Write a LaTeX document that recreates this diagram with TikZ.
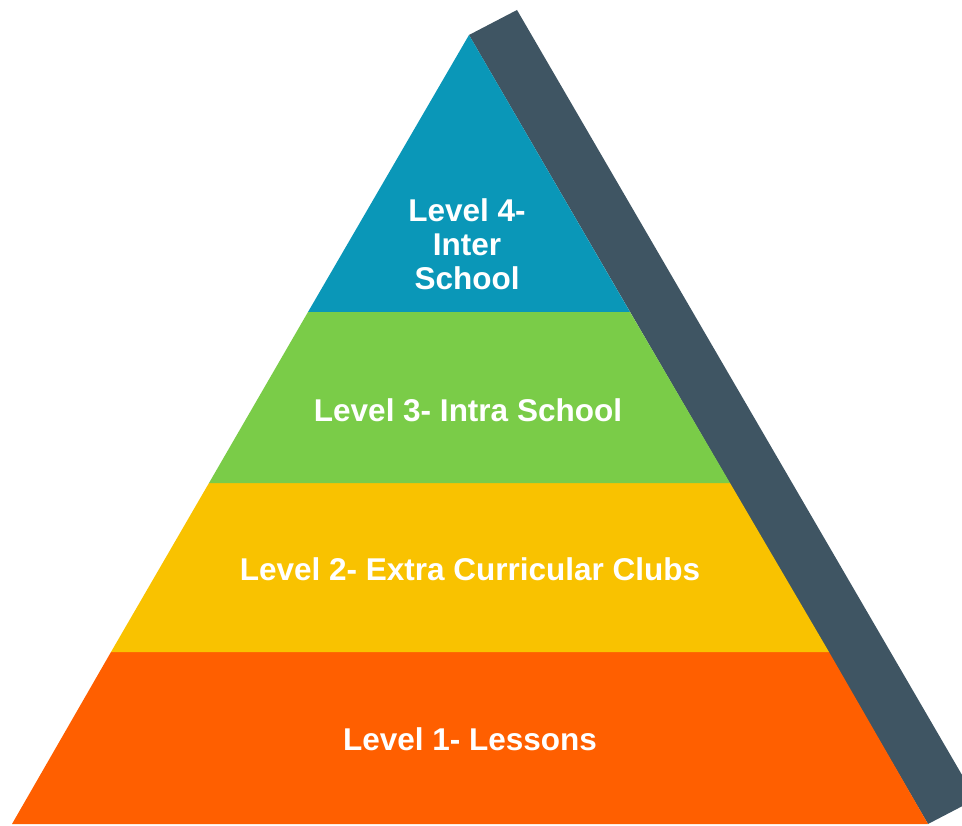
\documentclass[tikz,border=0pt]{standalone}
\usepackage{fontspec}
\setmainfont{Liberation Sans}
\begin{document}
\begin{tikzpicture}[x=1pt,y=-1pt,
  lvl/.style={text=white,font=\bfseries\fontsize{31.5}{34}\selectfont,align=center,inner sep=0pt}]
\definecolor{cshadow}{RGB}{63,85,99}
\definecolor{cblue}{RGB}{10,151,184}
\definecolor{cgreen}{RGB}{122,204,72}
\definecolor{cyellow}{RGB}{249,194,0}
\definecolor{corange}{RGB}{255,95,0}
\useasboundingbox (0,0) rectangle (962,826);
\clip (0,0) rectangle (962,826);
% coordinates of the pyramid
\coordinate (apex) at (469,35);
\coordinate (bl) at (12,824);
\coordinate (br) at (928,824);
\coordinate (st) at (517,10);
\coordinate (sb) at (976,799);
% shadow
\fill[cshadow] (apex) -- (st) -- (sb) -- (br) -- cycle;
% bands
\fill[corange] (12,824) -- (928,824) -- (829,652) -- (111,652) -- cycle;
\fill[cyellow] (111,652) -- (829,652) -- (730,483) -- (209,483) -- cycle;
\fill[cgreen] (209,483) -- (730,483) -- (630,312) -- (308,312) -- cycle;
\fill[cblue] (308,312) -- (630,312) -- (apex) -- cycle;
% labels
\node[lvl] (l4) at (467,244) {Level 4-\\Inter\\School};
\node[lvl] (l3) at (468,410) {Level 3- Intra School};
\node[lvl] (l2) at (470,569) {Level 2- Extra Curricular Clubs};
\node[lvl] (l1) at (470,739) {Level 1- Lessons};
\end{tikzpicture}
\end{document}
